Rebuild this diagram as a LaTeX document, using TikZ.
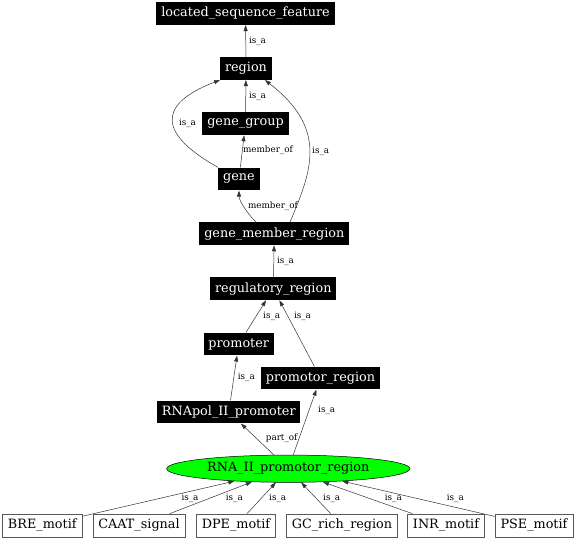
\documentclass[tikz,border=0pt]{standalone}
\usepackage{fontspec}
\setmainfont{DejaVu Serif}
\usetikzlibrary{arrows.meta,shapes.geometric}

\begin{document}
\begin{tikzpicture}[x=1pt,y=-1pt,
  term/.style={fill=black,text=white,font=\fontsize{12.8}{14}\selectfont,inner xsep=4.8pt,inner ysep=2pt,minimum height=22.7pt},
  motif/.style={draw=black!65,line width=0.6pt,fill=white,font=\fontsize{12.8}{14}\selectfont,inner xsep=5.5pt,inner ysep=2pt,minimum height=23pt},
  focus/.style={ellipse,draw=black,line width=0.5pt,fill=green,font=\fontsize{12.8}{14}\selectfont,minimum width=243.4pt,minimum height=27.3pt,inner sep=0pt},
  rel/.style={draw=black!80,line width=0.5pt,-{Triangle[length=6pt,width=4pt]}},
  lbl/.style={font=\fontsize{8.8}{10}\selectfont,inner sep=0pt}]
\useasboundingbox (0,0) rectangle (576,540);

\node [term] (lsf) at (245.5,13.5) {located\_sequence\_feature};
\node [term] (reg) at (246,68.5) {region};
\node [term] (gg) at (245.5,123.7) {gene\_group};
\node [term] (gene) at (239,179) {gene};
\node [term] (gmr) at (274.3,233.7) {gene\_member\_region};
\node [term] (rr) at (273.3,288.7) {regulatory\_region};
\node [term] (pro) at (238.7,344) {promoter};
\node [term] (prr) at (320.5,378) {promotor\_region};
\node [term] (rpol) at (228.8,412) {RNApol\_II\_promoter};
\node [focus] (rna) at (288.3,468.7) {RNA\_II\_promotor\_region};

\node [motif] (bre) at (42.3,525.5) {BRE\_motif};
\node [motif] (caat) at (139,525.5) {CAAT\_signal};
\node [motif] (dpe) at (236,525.5) {DPE\_motif};
\node [motif] (gc) at (342,525.5) {GC\_rich\_region};
\node [motif] (inr) at (446,525.5) {INR\_motif};
\node [motif] (pse) at (534,525.5) {PSE\_motif};

\draw [rel] (reg) -- (lsf) node [lbl] at (257.5,41.5) {is\_a};
\draw [rel] (gg) -- (reg) node [lbl] at (257.5,96.5) {is\_a};
\draw [rel] (gene.north west) .. controls (160,135) and (155,105) .. (reg.south west)
  node [lbl] at (187.5,123.5) {is\_a};
\draw [rel] (gene) -- (gg) node [lbl] at (268,150) {member\_of};
\draw [rel] ([xshift=-18.3pt]gmr.north) .. controls (246,212) and (239,200) .. (gene.south)
  node [lbl] at (273,206) {member\_of};
\draw [rel] ([xshift=15.7pt]gmr.north) .. controls (312,170) and (328,129) .. ([xshift=-7pt]reg.south east)
  node [lbl] at (320.7,151) {is\_a};
\draw [rel] (rr) -- (gmr) node [lbl] at (285.5,261) {is\_a};
\draw [rel] (pro) -- (rr) node [lbl] at (271.7,316) {is\_a};
\draw [rel] (prr) -- (rr) node [lbl] at (302.5,316) {is\_a};
\draw [rel] (rpol) -- (pro) node [lbl] at (246.3,377.3) {is\_a};
\draw [rel] (rna) -- (rpol) node [lbl] at (281.7,438.3) {part\_of};
\draw [rel] (rna) -- (prr) node [lbl] at (326.7,410.7) {is\_a};

\draw [rel] (bre) -- (rna.193) node [lbl] at (190,498.3) {is\_a};
\draw [rel] (caat) -- (rna.200.8) node [lbl] at (234.3,498) {is\_a};
\draw [rel] (dpe) -- (rna.228.7) node [lbl] at (277.7,498) {is\_a};
\draw [rel] (gc) -- (rna.313.7) node [lbl] at (331.7,498) {is\_a};
\draw [rel] (inr) -- (rna.339.2) node [lbl] at (393.3,498) {is\_a};
\draw [rel] (pse) -- (rna.347.5) node [lbl] at (455.3,498) {is\_a};
\end{tikzpicture}
\end{document}
